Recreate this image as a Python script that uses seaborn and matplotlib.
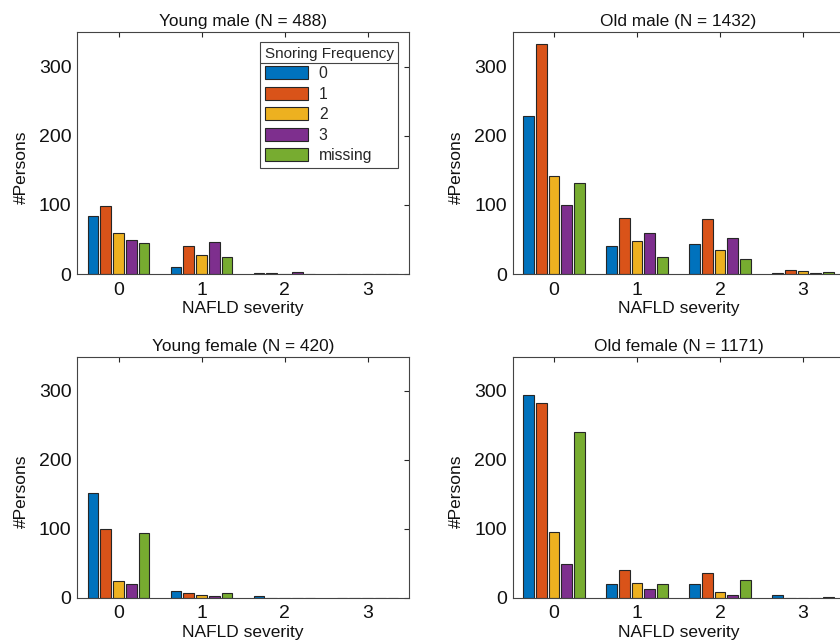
import matplotlib
matplotlib.use("Agg")
import matplotlib.pyplot as plt
import pandas as pd
import seaborn as sns
from matplotlib.patches import Patch
from matplotlib.lines import Line2D

# ---------------- data ----------------
severity_levels = ["0", "1", "2", "3"]
snoring_levels = ["0", "1", "2", "3", "missing"]

# counts per snoring level across NAFLD severity 0..3
young_male_s0 = [84, 10, 2, 0]
young_male_s1 = [98, 40, 1, 0]
young_male_s2 = [59, 27, 0, 0]
young_male_s3 = [49, 46, 3, 0]
young_male_missing = [45, 24, 0, 0]

old_male_s0 = [228, 40, 43, 1]
old_male_s1 = [332, 81, 80, 6]
old_male_s2 = [142, 48, 34, 4]
old_male_s3 = [100, 60, 52, 2]
old_male_missing = [131, 24, 21, 3]

young_female_s0 = [152, 9, 2, 0]
young_female_s1 = [100, 7, 0, 0]
young_female_s2 = [24, 4, 0, 0]
young_female_s3 = [19, 2, 0, 0]
young_female_missing = [94, 7, 0, 0]

old_female_s0 = [294, 20, 19, 4]
old_female_s1 = [283, 40, 36, 0]
old_female_s2 = [95, 21, 8, 0]
old_female_s3 = [49, 13, 4, 0]
old_female_missing = [240, 19, 25, 1]

panel_titles = ["Young male (N = 488)", "Old male (N = 1432)",
                "Young female (N = 420)", "Old female (N = 1171)"]
panel_series = [
    [young_male_s0, young_male_s1, young_male_s2, young_male_s3, young_male_missing],
    [old_male_s0, old_male_s1, old_male_s2, old_male_s3, old_male_missing],
    [young_female_s0, young_female_s1, young_female_s2, young_female_s3, young_female_missing],
    [old_female_s0, old_female_s1, old_female_s2, old_female_s3, old_female_missing],
]
y_ticks = [0, 100, 200, 300]

colors = ["#0072BD", "#D95319", "#EDB120", "#7E2F8E", "#77AC30"]

# ---------------- style ----------------
sns.set_theme(style="white")
plt.rcParams["font.family"] = ["Liberation Sans", "DejaVu Sans"]

W, H = 840, 642
fig = plt.figure(figsize=(W / 100, H / 100), dpi=100)

def px_axes(left, top, right, bottom):
    return [left / W, (H - bottom) / H, (right - left) / W, (bottom - top) / H]

positions = [
    px_axes(77, 32, 409, 274),
    px_axes(512.5, 32, 844.5, 274),
    px_axes(77, 356.5, 409, 597.5),
    px_axes(512.5, 356.5, 844.5, 597.5),
]

dark = "#262626"

for i, (pos, title, series) in enumerate(zip(positions, panel_titles, panel_series)):
    rows = []
    for lvl, vals in zip(snoring_levels, series):
        for sev, v in zip(severity_levels, vals):
            rows.append({"severity": sev, "count": v, "snoring": lvl})
    df = pd.DataFrame(rows)

    ax = fig.add_axes(pos)
    sns.barplot(data=df, x="severity", y="count", hue="snoring",
                order=severity_levels, hue_order=snoring_levels,
                palette=colors, saturation=1, width=0.765, gap=0.15,
                edgecolor=dark, linewidth=0.8, errorbar=None,
                legend=False, ax=ax)
    ax.set_xlim(-0.5, 3.5)
    ax.set_ylim(0, 350)
    ax.set_yticks(y_ticks)
    ax.set_title(title, fontsize=12.4, pad=4, color="#111111")
    ax.set_xlabel("NAFLD severity", fontsize=12.5, color="#111111", labelpad=2)
    ax.set_ylabel("#Persons", fontsize=12.5, color="#111111")
    ax.yaxis.set_label_coords(-0.146, 0.442)
    ax.tick_params(direction="in", top=True, right=True, length=3.5, width=0.8,
                   labelsize=14, color=dark, labelcolor="#111111")
    ax.tick_params(axis="x", pad=5.5)
    ax.tick_params(axis="y", pad=4)
    for sp in ax.spines.values():
        sp.set_visible(True)
        sp.set_color("#444444")
        sp.set_linewidth(0.8)

    if i == 0:
        handles = [Patch(facecolor=c, edgecolor=dark, linewidth=0.8) for c in colors]
        leg = ax.legend(handles, snoring_levels, title="Snoring Frequency",
                        loc="upper right", bbox_to_anchor=(0.968, 0.959),
                        borderaxespad=0, fontsize=11.3, title_fontsize=11,
                        frameon=True, fancybox=False, edgecolor="#444444",
                        framealpha=1, handlelength=2.75, handleheight=0.9,
                        handletextpad=0.7, labelspacing=0.35, borderpad=0.3,
                        alignment="left")
        leg.get_frame().set_linewidth(0.8)

fig.canvas.draw()
renderer = fig.canvas.get_renderer()
lb = leg.get_window_extent(renderer)
tb = leg.get_title().get_window_extent(renderer)
hb = leg._legend_handle_box.get_window_extent(renderer)
inv = fig.transFigure.inverted()
y_sep = (tb.y0 + hb.y1) / 2
(x0, y0) = inv.transform((lb.x0, y_sep))
(x1, _) = inv.transform((lb.x1, y_sep))
fig.add_artist(Line2D([x0, x1], [y0, y0], color="#444444", linewidth=0.8,
                      transform=fig.transFigure))

fig.savefig("out.png", dpi=100)
